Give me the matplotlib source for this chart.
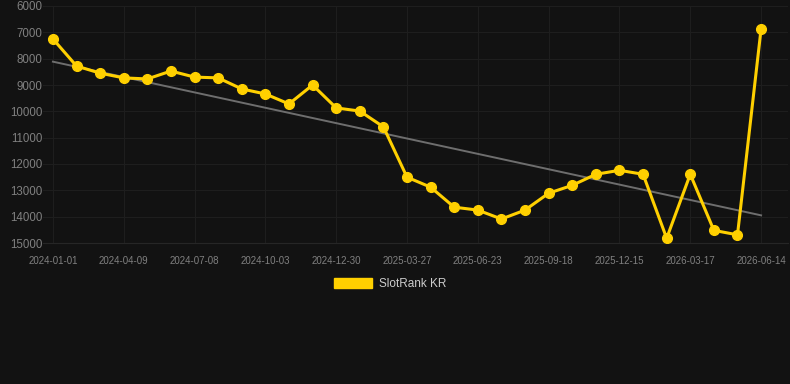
import matplotlib
matplotlib.use("Agg")
import matplotlib.pyplot as plt
from matplotlib.patches import Patch
import numpy as np

# monthly rank values (lower number = better rank, axis inverted)
ranks = [7250, 8280, 8550, 8730, 8770, 8470, 8700, 8730, 9150, 9340,
         9720, 9000, 9870, 9990, 10590, 12500, 12880, 13640, 13750, 14090,
         13750, 13110, 12810, 12390, 12240, 12390, 14820, 12390, 14520, 14690,
         6870]
tick_labels = ['2024-01-01', '2024-04-09', '2024-07-08', '2024-10-03', '2024-12-30',
               '2025-03-27', '2025-06-23', '2025-09-18', '2025-12-15', '2026-03-17',
               '2026-06-14']
y_ticks = [6000, 7000, 8000, 9000, 10000, 11000, 12000, 13000, 14000, 15000]
series_name = 'SlotRank KR'

bg = '#121212'
yellow = '#ffd000'
plt.rcParams['font.family'] = ['Liberation Sans', 'DejaVu Sans']

fig = plt.figure(figsize=(7.9, 3.84), dpi=100, facecolor=bg)
ax = fig.add_axes([43 / 790, 141 / 384, 745 / 790, 237 / 384], facecolor=bg)

x = np.arange(len(ranks))

# linear trend
slope, intercept = np.polyfit(x, ranks, 1)
ax.plot(x, slope * x + intercept, color='#6e6e6e', lw=1.4, zorder=2)

ax.plot(x, ranks, color=yellow, lw=2.2, marker='o', ms=7, zorder=3)

ax.set_xlim(-0.42, len(ranks) - 1 + 1.14)
ax.set_ylim(15000, 6000)
ax.set_yticks(y_ticks)
ax.set_xticks(x[::3])
ax.set_xticklabels(tick_labels)

ax.grid(True, color='#1e1e1e', lw=0.8)
ax.set_axisbelow(True)
for s in ['top', 'right', 'left']:
    ax.spines[s].set_visible(False)
ax.spines['bottom'].set_color('#262626')
ax.tick_params(axis='y', length=0, pad=0.5, labelsize=8.3, labelcolor='#808080')
ax.tick_params(axis='x', length=0, pad=9, labelsize=7, labelcolor='#808080')

handle = Patch(facecolor=yellow, edgecolor=yellow)
fig.legend([handle], [series_name], loc='center', bbox_to_anchor=(390 / 790, 1 - 284 / 384),
           frameon=False, fontsize=8.5, labelcolor='#cccccc',
           handlelength=3.2, handleheight=0.9, handletextpad=0.6)

fig.savefig('out.png', dpi=100, facecolor=bg)
